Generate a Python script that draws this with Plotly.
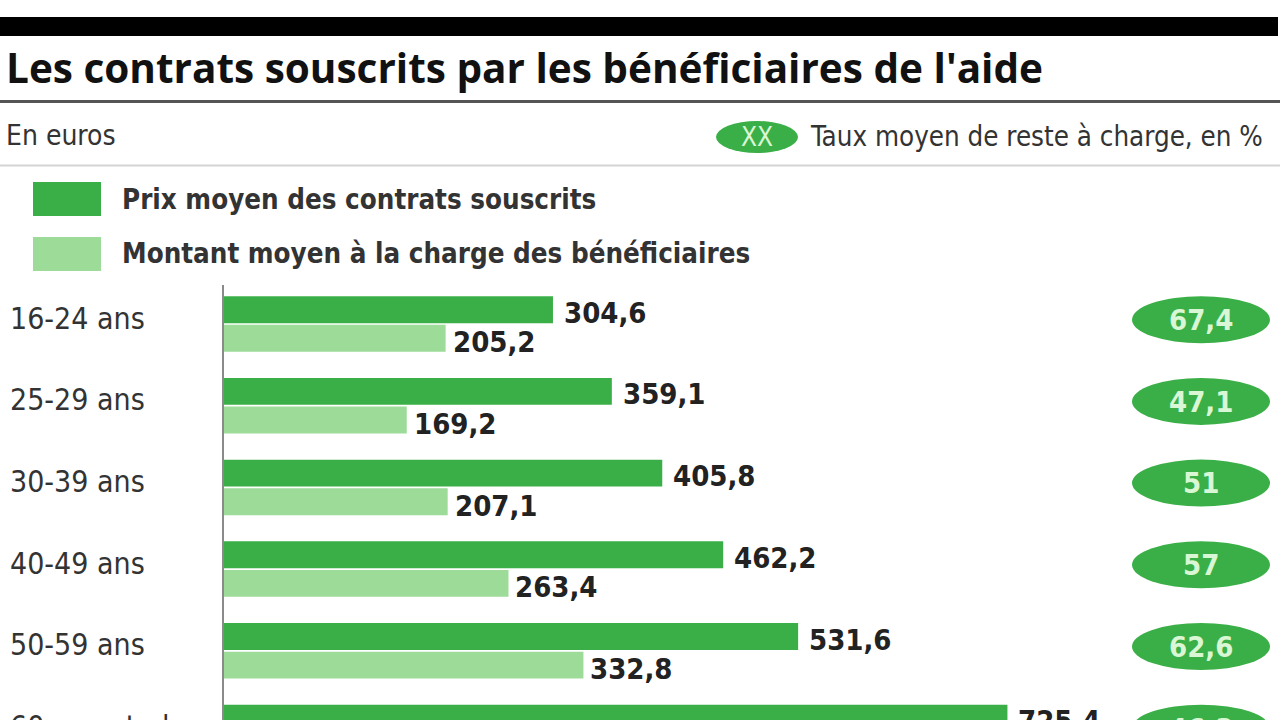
import plotly.graph_objects as go

categories = ["16-24 ans", "25-29 ans", "30-39 ans", "40-49 ans", "50-59 ans", "60 ans et plus"]
prix_moyen = [304.6, 359.1, 405.8, 462.2, 531.6, 725.4]
montant_moyen = [205.2, 169.2, 207.1, 263.4, 332.8, 335.9]
taux_reste = [67.4, 47.1, 51.0, 57.0, 62.6, 46.3]

DARK = "#3aaf47"
LIGHT = "#9cdb98"
TXT = "#222222"
NARROW = "Liberation Sans Narrow, Arial Narrow, DejaVu Sans Condensed, sans-serif"

W, H = 1280, 720
L_PX, T_PX = 224, 285
PW, PH = W - L_PX, H - T_PX
ROW0, ROW_STEP = 324, 81.7   # pixel centre of first category row, row pitch


def X(px):
    return (px - L_PX) / PW


def Y(py):
    return (H - py) / PH


def row_y(i, shift_px=0):
    return Y(ROW0 + ROW_STEP * i + shift_px)


def fmt(v):
    s = ("%.1f" % v)
    if s.endswith(".0"):
        s = s[:-2]
    return s.replace(".", ",")


fig = go.Figure()
fig.add_trace(go.Bar(y=list(range(len(categories))), x=prix_moyen, orientation="h",
                     marker=dict(color=DARK, line=dict(width=0)), name="Prix moyen des contrats souscrits",
                     hoverinfo="x"))
fig.add_trace(go.Bar(y=list(range(len(categories))), x=montant_moyen, orientation="h",
                     marker=dict(color=LIGHT, line=dict(width=0)),
                     name="Montant moyen à la charge des bénéficiaires", hoverinfo="x"))

ann = []
shapes = []

# value labels
for i, (p, m) in enumerate(zip(prix_moyen, montant_moyen)):
    ann.append(dict(x=p, y=i - 0.175, xref="x", yref="y", text=fmt(p), showarrow=False,
                    xanchor="left", yanchor="middle", xshift=9, yshift=-3,
                    font=dict(family=NARROW, size=29, color=TXT, weight="bold")))
    ann.append(dict(x=m, y=i + 0.175, xref="x", yref="y", text=fmt(m), showarrow=False,
                    xanchor="left", yanchor="middle", xshift=5, yshift=-4,
                    font=dict(family=NARROW, size=29, color=TXT, weight="bold")))
    # category labels
    ann.append(dict(x=X(8), y=row_y(i, -6), xref="paper", yref="paper", text=categories[i], showarrow=False,
                    xanchor="left", yanchor="middle",
                    font=dict(family=NARROW, size=30, color="#333333")))
    # badges
    shapes.append(dict(type="circle", xref="paper", yref="y", x0=X(1132), x1=X(1270),
                       y0=i - 0.34, y1=i + 0.235, fillcolor=DARK, line=dict(width=0), layer="above"))
    ann.append(dict(x=X(1201), y=row_y(i, -4), xref="paper", yref="paper", text=fmt(taux_reste[i]),
                    showarrow=False, xanchor="center", yanchor="middle",
                    font=dict(family=NARROW, size=29, color="#d9f7d4", weight="bold")))

# header lines
shapes.append(dict(type="rect", xref="paper", yref="paper", x0=X(0), x1=X(1278), y0=Y(36), y1=Y(17),
                   fillcolor="#000000", line=dict(width=0)))
shapes.append(dict(type="line", xref="paper", yref="paper", x0=X(0), x1=X(1280), y0=Y(101.5), y1=Y(101.5),
                   line=dict(color="#555555", width=3)))
shapes.append(dict(type="line", xref="paper", yref="paper", x0=X(0), x1=X(1280), y0=Y(165.5), y1=Y(165.5),
                   line=dict(color="#d4d4d4", width=2)))

# title
ann.append(dict(x=X(4), y=Y(68), xref="paper", yref="paper", text="Les contrats souscrits par les bénéficiaires de l'aide",
                showarrow=False, xanchor="left", yanchor="middle",
                font=dict(family="Open Sans, sans-serif", size=40.5, color="#111111", weight="bold")))
ann.append(dict(x=X(4), y=Y(136), xref="paper", yref="paper", text="En euros",
                showarrow=False, xanchor="left", yanchor="middle",
                font=dict(family=NARROW, size=28, color="#333333")))
shapes.append(dict(type="circle", xref="paper", yref="paper", x0=X(716), x1=X(798), y0=Y(153), y1=Y(121),
                   fillcolor=DARK, line=dict(width=0)))
ann.append(dict(x=X(757), y=Y(137), xref="paper", yref="paper", text="XX",
                showarrow=False, xanchor="center", yanchor="middle",
                font=dict(family=NARROW, size=26, color="#d9f7d4")))
ann.append(dict(x=X(1265), y=Y(136), xref="paper", yref="paper", text="Taux moyen de reste à charge, en %",
                showarrow=False, xanchor="right", yanchor="middle",
                font=dict(family=NARROW, size=27.5, color="#333333")))

# legend
shapes.append(dict(type="rect", xref="paper", yref="paper", x0=X(33), x1=X(101), y0=Y(216), y1=Y(182),
                   fillcolor=DARK, line=dict(width=0)))
shapes.append(dict(type="rect", xref="paper", yref="paper", x0=X(33), x1=X(101), y0=Y(271), y1=Y(237),
                   fillcolor=LIGHT, line=dict(width=0)))
ann.append(dict(x=X(120), y=Y(199), xref="paper", yref="paper", text="Prix moyen des contrats souscrits",
                showarrow=False, xanchor="left", yanchor="middle",
                font=dict(family=NARROW, size=27.5, color="#333333", weight="bold")))
ann.append(dict(x=X(120), y=Y(253), xref="paper", yref="paper", text="Montant moyen à la charge des bénéficiaires",
                showarrow=False, xanchor="left", yanchor="middle",
                font=dict(family=NARROW, size=27.5, color="#333333", weight="bold")))

fig.update_layout(
    width=W, height=H,
    margin=dict(l=L_PX, r=0, t=T_PX, b=0),
    paper_bgcolor="white", plot_bgcolor="white",
    barmode="group", bargap=0.3, bargroupgap=0.06,
    showlegend=False,
    xaxis=dict(range=[0, PW / 1.08], visible=False, fixedrange=True),
    yaxis=dict(range=[(H - ROW0) / ROW_STEP, -(ROW0 - T_PX) / ROW_STEP], showline=True, linecolor="#8a8a8a",
               linewidth=2, showticklabels=False, ticks="", showgrid=False, zeroline=False),
    annotations=ann, shapes=shapes,
)

fig.write_html("out.html", config={"displayModeBar": False},
               post_script="document.body.style.margin='0';document.body.style.padding='0';"
                           "document.body.style.overflow='hidden';")
